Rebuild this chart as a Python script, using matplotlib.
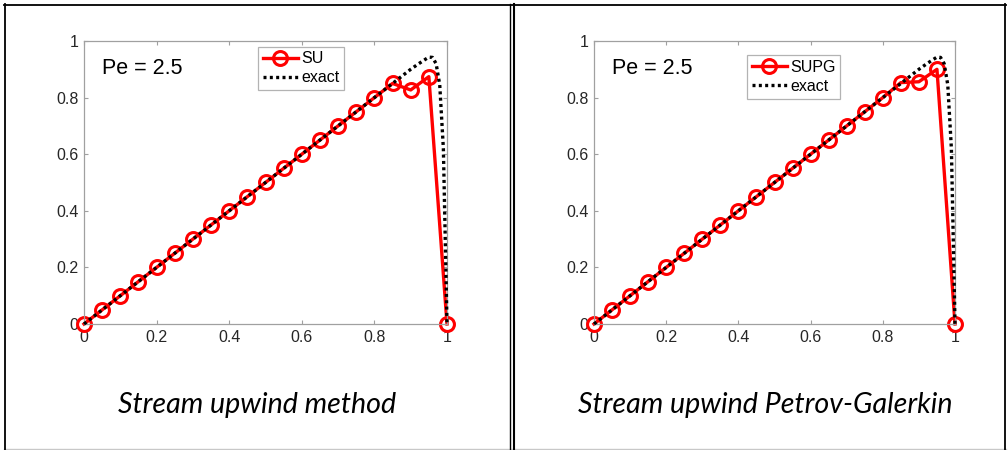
import matplotlib
matplotlib.use("Agg")
import matplotlib.pyplot as plt
from matplotlib.lines import Line2D

plt.rcParams['font.family'] = ['Liberation Sans', 'DejaVu Sans']

# numerical nodes (h = 0.05)
x_nodes = [0.0, 0.05, 0.1, 0.15, 0.2, 0.25, 0.3, 0.35, 0.4, 0.45, 0.5,
           0.55, 0.6, 0.65, 0.7, 0.75, 0.8, 0.85, 0.9, 0.95, 1.0]
y_su = [0.0, 0.05, 0.1, 0.15, 0.2, 0.25, 0.3, 0.35, 0.4, 0.45, 0.5,
        0.55, 0.6, 0.65, 0.7, 0.75, 0.8, 0.85, 0.827, 0.874, 0.0]
y_supg = [0.0, 0.05, 0.1, 0.15, 0.2, 0.25, 0.3, 0.35, 0.4, 0.45, 0.5,
          0.55, 0.6, 0.65, 0.7, 0.75, 0.8, 0.853, 0.856, 0.9, 0.0]

# exact curve
x_exact = [0.0, 0.9, 0.92, 0.94, 0.95, 0.96, 0.97, 0.98, 0.99, 1.0]
y_exact = [0.0, 0.9, 0.918, 0.935, 0.943, 0.942, 0.92, 0.845, 0.62, 0.0]

panels = [
    ("SU", y_su, "Stream upwind method"),
    ("SUPG", y_supg, "Stream upwind Petrov-Galerkin"),
]
ticks = [0, 0.2, 0.4, 0.6, 0.8, 1]
tick_labels = ["0", "0.2", "0.4", "0.6", "0.8", "1"]

W, H = 1008, 450
fig = plt.figure(figsize=(W / 100, H / 100), dpi=100)

# axes boxes in pixels: left, right, top, bottom
ax_px = [(84, 447, 41, 324), (594, 955, 41, 324)]
leg_anchor = [(0.479, 0.98), (0.424, 0.95)]
cap_x = [257, 765]

for i, (name, ys, caption) in enumerate(panels):
    l, r, t, b = ax_px[i]
    ax = fig.add_axes([l / W, (H - b) / H, (r - l) / W, (b - t) / H])
    ax.plot(x_nodes, ys, color="red", lw=2.4, marker="o", ms=10,
            mfc="none", mec="red", mew=2.2, label=name, zorder=2)
    ax.plot(x_exact, y_exact, color="black", lw=2.4, ls=(0, (0.9, 1.0)),
            label="exact", zorder=3)
    ax.set_xlim(0, 1)
    ax.set_ylim(0, 1)
    ax.set_xticks(ticks)
    ax.set_yticks(ticks)
    ax.set_xticklabels(tick_labels)
    ax.set_yticklabels(tick_labels)
    ax.tick_params(direction="in", length=3, width=0.8, colors="#a0a0a0",
                   labelcolor="#262626", labelsize=11.5, top=True, right=True,
                   pad=4)
    for s in ax.spines.values():
        s.set_color("#a0a0a0")
        s.set_linewidth(0.9)
    for c in (ax.get_lines()):
        c.set_clip_on(False)
    ax.text(18 / (r - l), (b - 69) / (b - t), "Pe = 2.5", fontsize=15.5,
            color="black", va="center", ha="left")
    leg = ax.legend(loc="upper left", bbox_to_anchor=leg_anchor[i],
                    fontsize=11.5, frameon=True, fancybox=False,
                    handlelength=2.2, handletextpad=0.2, borderpad=0.3,
                    labelspacing=0.25, borderaxespad=0)
    leg.get_frame().set_edgecolor("#a0a0a0")
    leg.get_frame().set_linewidth(0.9)
    fig.text(cap_x[i] / W, 1 - 405 / H, caption, fontsize=20.6,
             style="italic", family="Lato", ha="center", va="center")

# table cell borders
def hline(x0, x1, y, **kw):
    fig.add_artist(Line2D([x0 / W, x1 / W], [1 - y / H, 1 - y / H], **kw))

def vline(x, y0, y1, **kw):
    fig.add_artist(Line2D([x / W, x / W], [1 - y0 / H, 1 - y1 / H], **kw))

hline(4, 1006, 4.5, color="black", lw=1.3)
hline(4, 1006, 449, color="#c8c8c8", lw=1.0)
vline(5, 4, 450, color="black", lw=1.3)
vline(509.5, 4, 450, color="black", lw=1.0)
vline(513.5, 4, 450, color="black", lw=1.5)
vline(1005, 4, 450, color="black", lw=1.3)

fig.savefig("out.png", dpi=100)
